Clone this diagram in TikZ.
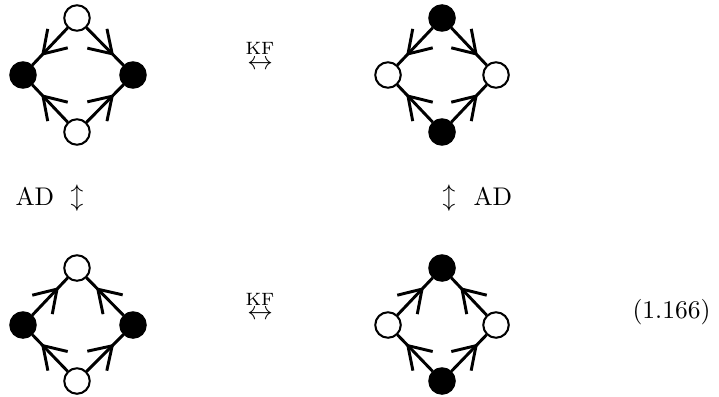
\documentclass[tikz,border=0pt]{standalone}
\usetikzlibrary{decorations.markings}
\begin{document}
\begin{tikzpicture}[x=0.392pt,y=-0.392pt,
  wv/.style={circle,draw,line width=0.8pt,fill=white,minimum size=10pt,inner sep=0pt},
  bv/.style={circle,draw,line width=0.8pt,fill=black,minimum size=10pt,inner sep=0pt},
  edge/.style={line width=1.15pt,postaction={decorate},
    decoration={markings,mark=at position 0.5 with {\draw[line width=1.15pt] (-4.4pt,5.4pt) -- (4pt,0pt) -- (-4.4pt,-5.4pt);}}},
  lbl/.style={inner sep=0pt}]
\useasboundingbox (0,0) rectangle (719,396);
% top-left
\node[wv] (a1) at (77,18) {};
\node[bv] (a2) at (23,75) {};
\node[bv] (a3) at (133,75) {};
\node[wv] (a4) at (77,132) {};
\draw[edge] (a1) -- (a2);
\draw[edge] (a1) -- (a3);
\draw[edge] (a4) -- (a2);
\draw[edge] (a4) -- (a3);
% top-right
\node[bv] (b1) at (442,18) {};
\node[wv] (b2) at (388,75) {};
\node[wv] (b3) at (496,75) {};
\node[bv] (b4) at (442,132) {};
\draw[edge] (b1) -- (b2);
\draw[edge] (b1) -- (b3);
\draw[edge] (b4) -- (b2);
\draw[edge] (b4) -- (b3);
% bottom-left
\node[wv] (c1) at (77,268) {};
\node[bv] (c2) at (23,325) {};
\node[bv] (c3) at (133,325) {};
\node[wv] (c4) at (77,381) {};
\draw[edge] (c2) -- (c1);
\draw[edge] (c3) -- (c1);
\draw[edge] (c4) -- (c2);
\draw[edge] (c4) -- (c3);
% bottom-right
\node[bv] (d1) at (442,268) {};
\node[wv] (d2) at (388,325) {};
\node[wv] (d3) at (496,325) {};
\node[bv] (d4) at (442,381) {};
\draw[edge] (d2) -- (d1);
\draw[edge] (d3) -- (d1);
\draw[edge] (d4) -- (d2);
\draw[edge] (d4) -- (d3);
% labels
\node[lbl,font=\scriptsize,anchor=base] (kf1) at (260,55) {KF};
\node[lbl,anchor=base] (h1) at (260,69.5) {$\leftrightarrow$};
\node[lbl,font=\scriptsize,anchor=base] (kf2) at (260,305) {KF};
\node[lbl,anchor=base] (h2) at (260,319.5) {$\leftrightarrow$};
\node[lbl,anchor=base west] (ad1) at (15,205) {AD};
\node[lbl] (u1) at (77,198) {$\updownarrow$};
\node[lbl] (u2) at (449,198) {$\updownarrow$};
\node[lbl,anchor=base west] (ad2) at (473,205) {AD};
\node[lbl] (eq) at (671.5,312) {(1.166)};
\end{tikzpicture}
\end{document}
